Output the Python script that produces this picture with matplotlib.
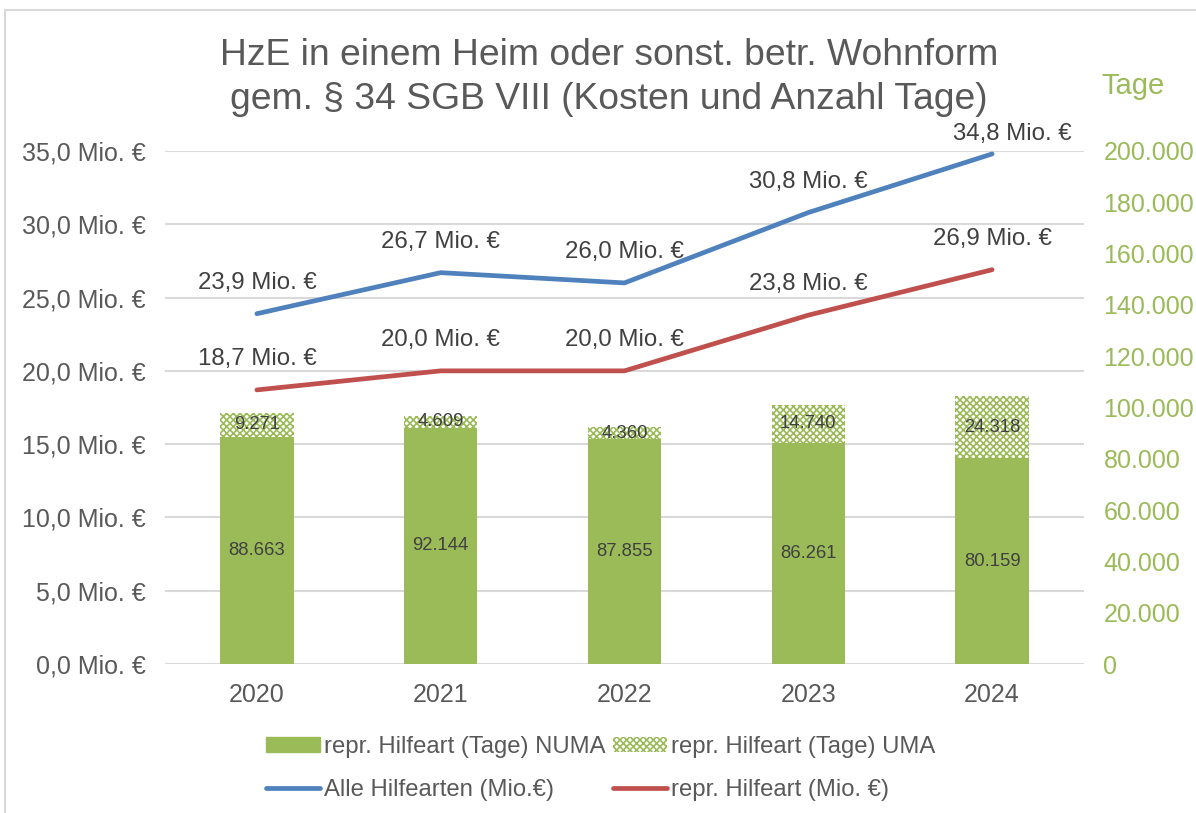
import matplotlib.pyplot as plt
import matplotlib.patches as mpatches
from matplotlib.lines import Line2D

plt.rcParams['font.family'] = ['Liberation Sans', 'DejaVu Sans']
plt.rcParams['hatch.linewidth'] = 1.2

years = ["2020", "2021", "2022", "2023", "2024"]
tage_numa = [88663, 92144, 87855, 86261, 80159]
tage_uma = [9271, 4609, 4360, 14740, 24318]
kosten_alle = [23.9, 26.7, 26.0, 30.8, 34.8]
kosten_repr = [18.7, 20.0, 20.0, 23.8, 26.9]

grey = '#595959'
dark = '#404040'
green = '#9BBB59'
blue = '#4F81BD'
red = '#C0504D'


def de_num(v):
    return f"{v:,}".replace(",", ".")


def mio(v):
    return f"{v:.1f} Mio. €".replace(".", ",", 1)


fig = plt.figure(figsize=(11.96, 8.13), dpi=100)
ax = fig.add_axes([165 / 1196, 1 - 664 / 813, (1084 - 165) / 1196, (664 - 151) / 813])
ax2 = ax.twinx()

x = list(range(len(years)))

# Balken (Tage) auf der rechten Achse
ax2.bar(x, tage_numa, width=0.4, color=green, zorder=2)
ax2.bar(x, tage_uma, width=0.4, bottom=tage_numa, color='white',
        edgecolor=green, hatch='xxxxx', linewidth=0, zorder=2)
for i in x:
    ax2.text(i, tage_numa[i] / 2, de_num(tage_numa[i]), ha='center', va='center',
             fontsize=13.3, color=dark, zorder=5)
    ax2.text(i, tage_numa[i] + tage_uma[i] / 2, de_num(tage_uma[i]), ha='center',
             va='center', fontsize=13.3, color=dark, zorder=5)

ax2.set_ylim(0, 200000)
ax2.set_yticks(range(0, 200001, 20000))
ax2.set_yticklabels([de_num(v) for v in range(0, 200001, 20000)])
ax2.tick_params(axis='y', length=0, pad=14, labelsize=18, labelcolor=green)

# Linien (Mio. €) auf der linken Achse
ax.set_zorder(ax2.get_zorder() + 1)
ax.patch.set_visible(False)
ax.plot(x, kosten_alle, color=blue, linewidth=3.4, solid_capstyle='round', zorder=4)
ax.plot(x, kosten_repr, color=red, linewidth=3.4, solid_capstyle='round', zorder=4)

ymax = 35
for series in (kosten_alle, kosten_repr):
    for i in x:
        # Excel schiebt das oberste Label nach rechts, weil oben kein Platz ist
        if series[i] > ymax - 1:
            off = (20, 20)
        else:
            off = (0, 31)
        ax.annotate(mio(series[i]), (i, series[i]), xytext=off, textcoords='offset pixels',
                    ha='center', va='center', fontsize=17.3, color=dark)

ax.set_ylim(0, ymax)
ax.set_yticks(range(0, 36, 5))
ax.set_yticklabels([f"{v},0 Mio. €" for v in range(0, 36, 5)])
ax.set_xlim(-0.5, 4.5)
ax.set_xticks(x)
ax.set_xticklabels(years)
ax.tick_params(axis='y', length=0, pad=14, labelsize=18, labelcolor=grey)
ax.tick_params(axis='x', length=0, pad=14, labelsize=18, labelcolor=grey)

for v in range(0, 36, 5):
    ax2.axhline(v / 35 * 200000, color='#D9D9D9', linewidth=1.5, zorder=1)

for a in (ax, ax2):
    for s in a.spines.values():
        s.set_visible(False)

# Titel
fig.text(0.509, 1 - 65 / 813, "HzE in einem Heim oder sonst. betr. Wohnform",
         ha='center', va='baseline', fontsize=26.8, color=grey)
fig.text(0.509, 1 - 109 / 813, "gem. § 34 SGB VIII (Kosten und Anzahl Tage)",
         ha='center', va='baseline', fontsize=26.8, color=grey)
fig.text(1133 / 1196, 1 - 86 / 813, "Tage", ha='center', va='center', fontsize=21, color=green)

# Legende
handles = [mpatches.Patch(facecolor=green, edgecolor=green),
           Line2D([], [], color=blue, linewidth=3.4, solid_capstyle='round'),
           mpatches.Patch(facecolor='white', edgecolor=green, hatch='xxxxx', linewidth=0),
           Line2D([], [], color=red, linewidth=3.4, solid_capstyle='round')]
labels = ["repr. Hilfeart (Tage) NUMA", "Alle Hilfearten (Mio.€)",
          "repr. Hilfeart (Tage) UMA", "repr. Hilfeart (Mio. €)"]
fig.legend(handles, labels, loc='upper left', bbox_to_anchor=(266 / 1196, 1 - 736 / 813),
           ncol=2, frameon=False, fontsize=17.2, labelcolor=grey, handlelength=2.25,
           handleheight=0.55, handletextpad=0.17, columnspacing=0.33, labelspacing=0.87,
           borderpad=0, borderaxespad=0)

# heller Rahmen
fig.patches.append(mpatches.Rectangle((5 / 1196, -0.05), 1.2, 1 - 10 / 813 + 0.05,
                                      transform=fig.transFigure, fill=False,
                                      edgecolor='#D9D9D9', linewidth=1.5))

fig.savefig("out.png", dpi=100)
